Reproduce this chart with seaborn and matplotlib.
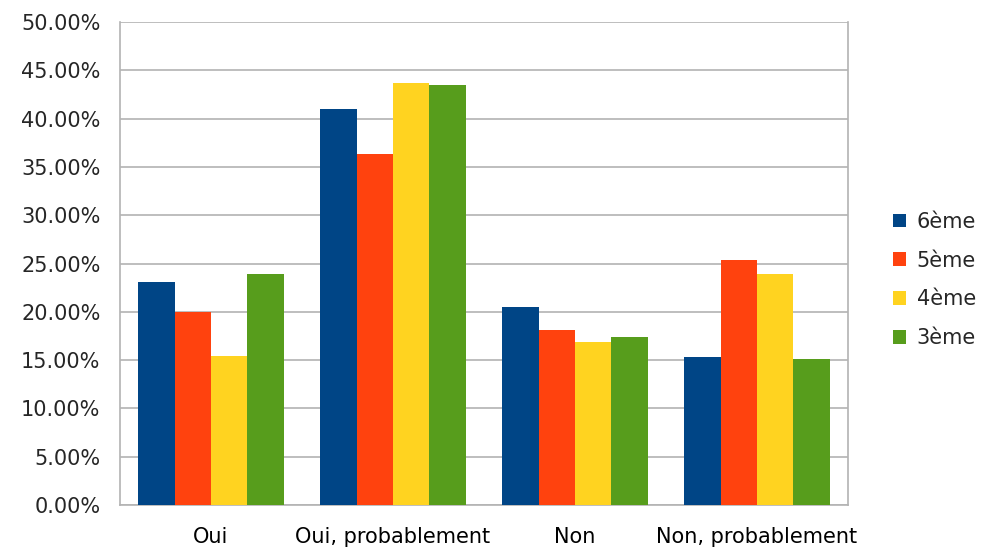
import pandas as pd
import matplotlib
matplotlib.use("Agg")
import matplotlib.pyplot as plt
import seaborn as sns
from matplotlib.ticker import PercentFormatter

categories = ["Oui", "Oui, probablement", "Non", "Non, probablement"]
niveaux = ["6ème", "5ème", "4ème", "3ème"]
val_6eme = [23.1, 41.0, 20.5, 15.35]
val_5eme = [20.0, 36.35, 18.15, 25.4]
val_4eme = [15.45, 43.7, 16.9, 23.95]
val_3eme = [23.9, 43.5, 17.4, 15.15]
couleurs = ["#004586", "#ff420e", "#ffd320", "#579d1c"]

rows = []
for niv, vals in zip(niveaux, [val_6eme, val_5eme, val_4eme, val_3eme]):
    for cat, v in zip(categories, vals):
        rows.append({"reponse": cat, "niveau": niv, "pct": v})
df = pd.DataFrame(rows)

sns.set_style("white")
plt.rcParams["font.family"] = ["DejaVu Sans"]
fs = 15

fig = plt.figure(figsize=(9.84, 5.52), dpi=100)
ax = fig.add_axes([120 / 984, 1 - 505 / 552, 728 / 984, 483 / 552])

sns.barplot(data=df, x="reponse", y="pct", hue="niveau", order=categories,
            hue_order=niveaux, palette=couleurs, width=0.8, saturation=1,
            errorbar=None, ax=ax, zorder=3, linewidth=0, edgecolor="none")

gris = "#b3b3b3"
ax.set_ylim(0, 50)
ax.set_xlim(-0.5, 3.5)
ax.set_yticks(range(0, 51, 5))
ax.yaxis.set_major_formatter(PercentFormatter(decimals=2))
ax.yaxis.grid(True, color=gris, linewidth=1.2, zorder=0)
ax.set_axisbelow(True)
ax.set_xlabel("")
ax.set_ylabel("")

ax.set_xticks([-0.5, 0.5, 1.5, 2.5, 3.5], minor=True)
ax.tick_params(axis="x", which="minor", length=8, width=1.2, color=gris, direction="out")
ax.tick_params(axis="x", which="major", length=0, pad=16, labelsize=fs, colors="black")
ax.tick_params(axis="y", length=5, width=1.2, color=gris, direction="out", pad=9, labelsize=fs)
for side in ["left", "bottom", "right"]:
    ax.spines[side].set_color(gris)
    ax.spines[side].set_linewidth(1.2)
ax.spines["top"].set_visible(False)

ax.legend(loc="center left", bbox_to_anchor=(893 / 984, 1 - 280 / 552),
          bbox_transform=fig.transFigure, frameon=False, fontsize=fs,
          borderpad=0, borderaxespad=0,
          handlelength=0.63, handleheight=0.63, handletextpad=0.5, labelspacing=0.9)

fig.savefig("out.png", dpi=100)
